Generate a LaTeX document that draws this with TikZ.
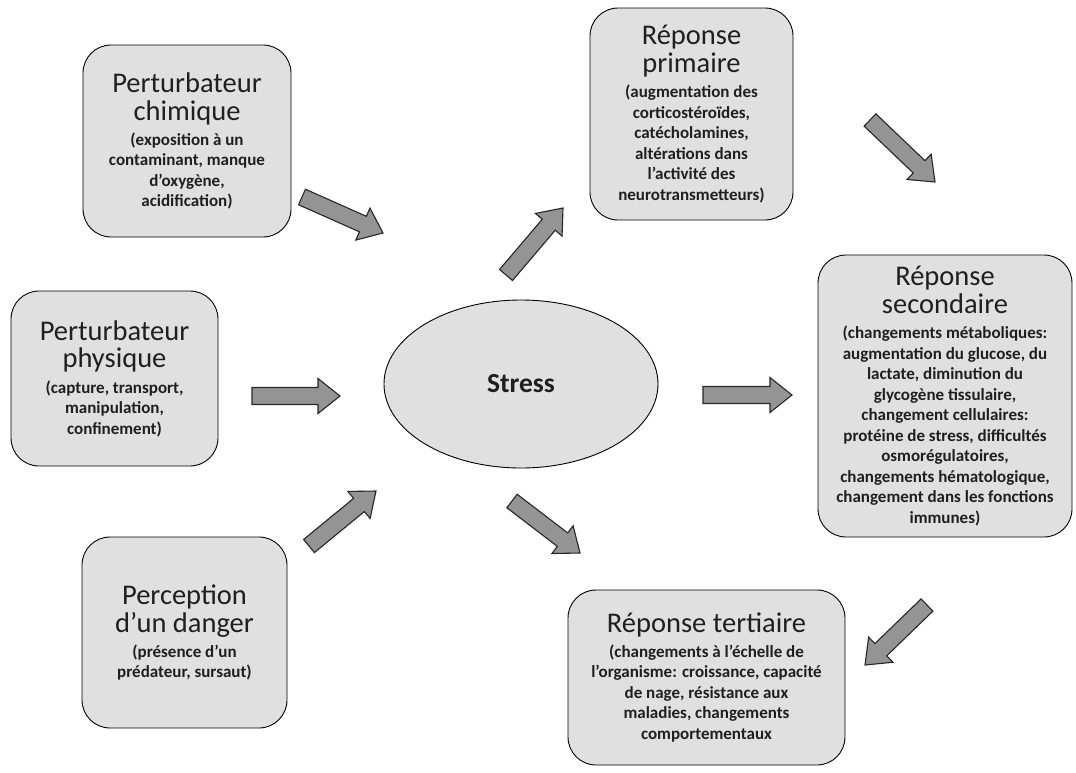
\documentclass[tikz,border=0pt]{standalone}
\usepackage{fontspec}
\setmainfont{Carlito}
\usetikzlibrary{shapes.geometric,calc}
\definecolor{boxfill}{gray}{0.88}
\definecolor{arrfill}{gray}{0.58}
\definecolor{txt}{gray}{0.12}
\newcommand{\subfont}{\fontsize{17}{20.5}\selectfont\bfseries\lineskip=0pt\relax}
\newcommand{\ttl}{\fontsize{28.5}{31}\selectfont\mdseries\rule[-8pt]{0pt}{22.5pt}}
\tikzset{
  box/.style={draw=black, line width=0.9pt, rounded corners=28pt, fill=boxfill, align=center, text=txt, inner sep=2pt, font=\subfont},
  blockarr/.style={draw=black!85, line width=1.1pt, fill=arrfill, line join=miter},
}
\newcommand{\blockarrow}[2]{%
  \path (#1) coordinate (ba-t) (#2) coordinate (ba-h);
  \path ($(ba-h)!22pt!(ba-t)$) coordinate (ba-b);
  \draw[blockarr] ($(ba-t)!8.5pt!90:(ba-h)$) -- ($(ba-b)!8.5pt!-90:(ba-t)$) --
    ($(ba-b)!17.5pt!-90:(ba-t)$) -- (ba-h) -- ($(ba-b)!17.5pt!90:(ba-t)$) --
    ($(ba-b)!8.5pt!90:(ba-t)$) -- ($(ba-t)!8.5pt!-90:(ba-h)$) -- cycle;}
\begin{document}
\begin{tikzpicture}[x=1pt,y=-1pt]
\useasboundingbox (0,0) rectangle (1076,772);

% boxes
\node[box, minimum width=208pt, minimum height=192pt] (chim) at (187,141)
  {\ttl Perturbateur\\\ttl chimique\\[4.5pt](exposition à un\\contaminant, manque\\d’oxygène,\\acidification)};
\node[box, minimum width=207pt, minimum height=175pt] (phys) at (114.5,378.5)
  {\ttl Perturbateur\\\ttl physique\\[4.5pt](capture, transport,\\manipulation,\\confinement)};
\node[box, minimum width=205pt, minimum height=191pt] (dang) at (184.5,632.5)
  {\ttl Perception\\\ttl d’un danger\\[4.5pt](présence d’un\\prédateur, sursaut)};
\node[box, minimum width=203pt, minimum height=212pt] (prim) at (691.5,114)
  {\ttl Réponse\\\ttl primaire\\[4.5pt](augmentation des\\corticostéroïdes,\\catécholamines,\\altérations dans\\l’activité des\\neurotransmetteurs)};
\node[box, minimum width=254pt, minimum height=282pt] (seco) at (945,396)
  {\ttl Réponse\\\ttl secondaire\\[4.5pt](changements métaboliques:\\augmentation du glucose, du\\lactate, diminution du\\glycogène tissulaire,\\changement cellulaires:\\protéine de stress, difficultés\\osmorégulatoires,\\changements hématologique,\\changement dans les fonctions\\immunes)};
\node[box, minimum width=277pt, minimum height=175pt] (tert) at (706.5,677.5)
  {\ttl Réponse tertiaire\\[3.5pt](changements à l’échelle de\\l’organisme: croissance, capacité\\de nage, résistance aux\\maladies, changements\\comportementaux};

% central ellipse
\node[ellipse, draw=black, line width=0.9pt, fill=boxfill, minimum width=274pt, minimum height=168pt, text=txt, font=\fontsize{27.5}{31}\selectfont\bfseries] (stress) at (521,384) {Stress};

% arrow end points
\coordinate (a1t) at (302,197); \coordinate (a1h) at (383,233);
\coordinate (a2t) at (252,396); \coordinate (a2h) at (340,396);
\coordinate (a3t) at (309,546); \coordinate (a3h) at (376,491);
\coordinate (a4t) at (506,275); \coordinate (a4h) at (563,208);
\coordinate (a5t) at (512,501); \coordinate (a5h) at (580,553);
\coordinate (a6t) at (703,395); \coordinate (a6h) at (792,395);
\coordinate (a7t) at (870,120); \coordinate (a7h) at (935,182);
\coordinate (a8t) at (927,605); \coordinate (a8h) at (865,665);

\blockarrow{a1t}{a1h}
\blockarrow{a2t}{a2h}
\blockarrow{a3t}{a3h}
\blockarrow{a4t}{a4h}
\blockarrow{a5t}{a5h}
\blockarrow{a6t}{a6h}
\blockarrow{a7t}{a7h}
\blockarrow{a8t}{a8h}
\end{tikzpicture}
\end{document}
